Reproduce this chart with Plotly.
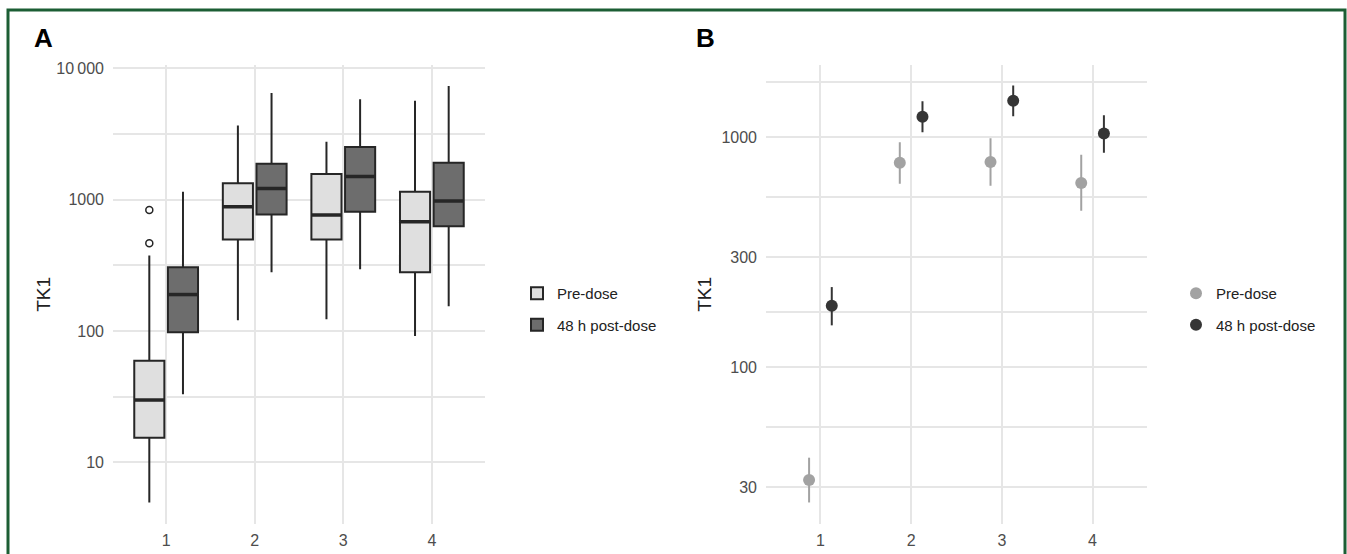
import numpy as np
import plotly.graph_objects as go

W, H = 1347, 554

# ---------------- data ----------------
visits = [1, 2, 3, 4]
groups = ["Pre-dose", "48 h post-dose"]

# Panel A: box statistics (lower whisker, Q1, median, Q3, upper whisker)
pre_low = [4.95, 121, 123, 92]
pre_q1 = [15.4, 498, 498, 281]
pre_med = [29.9, 885, 766, 681]
pre_q3 = [59.6, 1337, 1574, 1151]
pre_high = [377, 3680, 2765, 5690]
pre_out_visit = [1, 1]
pre_out_val = [836, 467]

post_low = [33.1, 281, 296, 155]
post_q1 = [98, 774, 811, 628]
post_med = [190, 1218, 1503, 981]
post_q3 = [307, 1884, 2522, 1919]
post_high = [1151, 6500, 5823, 7350]

# Panel B: central estimate with interval
pre_est = [32.3, 774, 780, 632]
pre_lo = [25.8, 628, 615, 479]
pre_hi = [40.4, 951, 990, 838]
post_est = [185, 1227, 1440, 1037]
post_lo = [152, 1051, 1233, 857]
post_hi = [223, 1435, 1679, 1245]

# ---------------- style ----------------
FONT = "Liberation Sans, Arial, sans-serif"
GRID = "#e6e6e6"
TICK = "#4d4d4d"
LIGHT_FILL = "#dfdfdf"
DARK_FILL = "#6d6d6d"
OUTLINE = "#262626"
PT_PRE = "#a2a2a2"
PT_POST = "#353535"
BOX_DODGE = 0.19
BOX_W = 0.34
PT_DODGE = 0.125

fig = go.Figure()

v = np.array(visits, dtype=float)

box_sets = [
    (groups[0], pre_low, pre_q1, pre_med, pre_q3, pre_high, LIGHT_FILL, -BOX_DODGE),
    (groups[1], post_low, post_q1, post_med, post_q3, post_high, DARK_FILL, BOX_DODGE),
]
for name, lo, q1, med, q3, hi, fill, off in box_sets:
    fig.add_trace(go.Box(
        name=name, x=v + off, q1=q1, median=med, q3=q3,
        lowerfence=lo, upperfence=hi, width=BOX_W,
        fillcolor=fill, line=dict(color=OUTLINE, width=2),
        whiskerwidth=0, boxpoints=False, hoverinfo="skip",
        xaxis="x", yaxis="y", legend="legend", showlegend=True,
    ))
    # thicker median bar (ggplot style)
    mx, my = [], []
    for xi, m in zip(v + off, med):
        mx += [xi - BOX_W / 2, xi + BOX_W / 2, None]
        my += [m, m, None]
    fig.add_trace(go.Scatter(x=mx, y=my, mode="lines",
                             line=dict(color=OUTLINE, width=3.5),
                             showlegend=False, hoverinfo="skip",
                             xaxis="x", yaxis="y"))

# outliers
fig.add_trace(go.Scatter(
    x=np.array(pre_out_visit, dtype=float) - BOX_DODGE, y=pre_out_val,
    mode="markers",
    marker=dict(symbol="circle-open", size=7, color=OUTLINE, line=dict(width=1.5)),
    showlegend=False, hoverinfo="skip", xaxis="x", yaxis="y"))

# Panel B
pt_sets = [
    (groups[0], pre_est, pre_lo, pre_hi, PT_PRE, -PT_DODGE),
    (groups[1], post_est, post_lo, post_hi, PT_POST, PT_DODGE),
]
for name, est, lo, hi, col, off in pt_sets:
    est_a = np.array(est)
    fig.add_trace(go.Scatter(
        name=name, x=v + off, y=est, mode="markers",
        marker=dict(size=12, color=col),
        error_y=dict(type="data", symmetric=False,
                     array=np.array(hi) - est_a, arrayminus=est_a - np.array(lo),
                     color=col, thickness=2, width=0),
        xaxis="x2", yaxis="y2", legend="legend2",
    ))

# ---------------- layout ----------------
def px_x(p):
    return p / W

def px_y(p):
    return 1 - p / H

ydom = [px_y(524), px_y(61)]

axis_common = dict(
    showgrid=True, gridcolor=GRID, gridwidth=1.5, zeroline=False,
    showline=False, ticks="", tickfont=dict(family=FONT, size=16, color=TICK),
)
title_font = dict(family=FONT, size=19, color="#222222")
legend_font = dict(family=FONT, size=15, color="#222222")

fig.update_layout(
    width=W, height=H, autosize=False,
    margin=dict(l=0, r=0, t=0, b=0),
    paper_bgcolor="white", plot_bgcolor="white",
    font=dict(family=FONT, color="#222222"),
    boxmode="overlay",
    xaxis=dict(domain=[px_x(113), px_x(485)], range=[0.4, 4.6],
               tickvals=visits, ticktext=[str(t) for t in visits],
               ticklabelstandoff=5, anchor="y", **axis_common),
    yaxis=dict(domain=ydom, type="log", range=[0.53, 4.03],
               tickvals=[10, 100, 1000, 10000],
               ticktext=["10", "100", "1000", "10\u2009000"],
               minor=dict(tickvals=[10 ** 1.5, 10 ** 2.5, 10 ** 3.5],
                          showgrid=True, gridcolor=GRID, gridwidth=1.5),
               ticklabelstandoff=8,
               title=dict(text="TK1", font=title_font, standoff=0),
               anchor="x", **axis_common),
    xaxis2=dict(domain=[px_x(766), px_x(1147)], range=[0.4, 4.6],
                tickvals=visits, ticktext=[str(t) for t in visits],
                ticklabelstandoff=5, anchor="y2", **axis_common),
    yaxis2=dict(domain=ydom, type="log", range=[1.317, 3.316],
                tickvals=[30, 100, 300, 1000],
                ticktext=["30", "100", "300", "1000"],
                minor=dict(tickvals=[np.sqrt(30 * 100), np.sqrt(100 * 300),
                                     np.sqrt(300 * 1000), np.sqrt(1000 * 3000)],
                           showgrid=True, gridcolor=GRID, gridwidth=1.5),
                ticklabelstandoff=8,
                title=dict(text="TK1", font=title_font, standoff=4),
                anchor="x2", **axis_common),
    legend=dict(x=px_x(517), y=px_y(275), xanchor="left", yanchor="top",
                font=legend_font, tracegroupgap=9, bgcolor="rgba(0,0,0,0)"),
    legend2=dict(x=px_x(1176), y=px_y(275), xanchor="left", yanchor="top",
                 font=legend_font, tracegroupgap=9, bgcolor="rgba(0,0,0,0)"),
    annotations=[
        dict(text="<b>A</b>", x=px_x(32), y=px_y(34), xref="paper", yref="paper",
             xanchor="left", yanchor="middle", showarrow=False,
             font=dict(family=FONT, size=26, color="black")),
        dict(text="<b>B</b>", x=px_x(694), y=px_y(34), xref="paper", yref="paper",
             xanchor="left", yanchor="middle", showarrow=False,
             font=dict(family=FONT, size=26, color="black")),
    ],
    shapes=[
        dict(type="rect", xref="paper", yref="paper",
             x0=px_x(8), x1=px_x(1345), y0=-0.05, y1=px_y(6),
             line=dict(color="#1c5e34", width=3), fillcolor="rgba(0,0,0,0)",
             layer="above"),
    ],
)

# separate legend groups so spacing matches the reference
for i, tr in enumerate(fig.data):
    tr.legendgroup = f"g{i}"

fig.write_html(
    "out.html",
    config={"displayModeBar": False},
    post_script="document.body.style.margin='0';document.body.style.overflow='hidden';",
)
